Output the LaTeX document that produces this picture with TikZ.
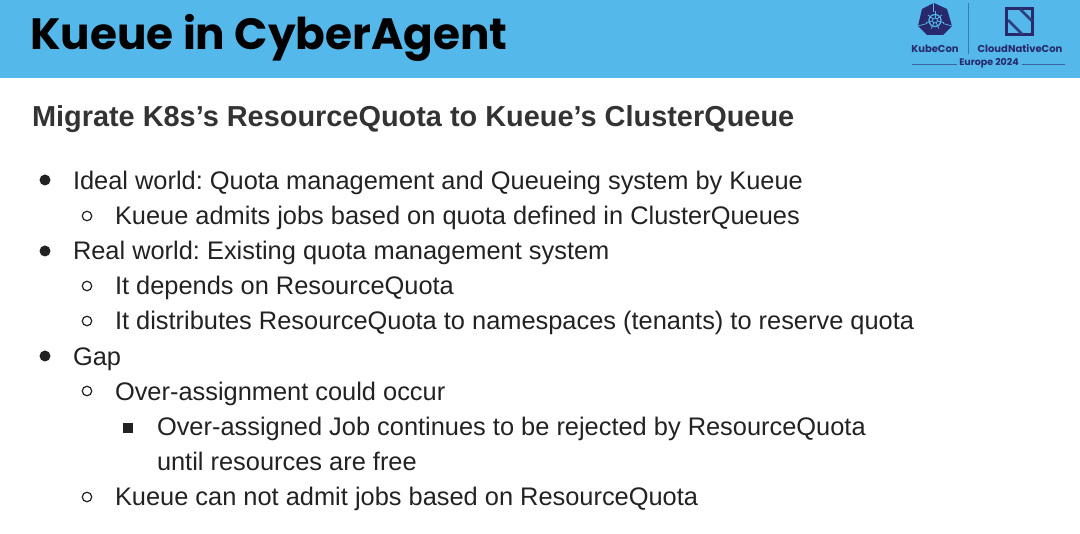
\documentclass[tikz,border=0pt]{standalone}
\usepackage{fontspec}
\setmainfont{Liberation Sans}
\newfontfamily\titlefont{Poppins}[BoldFont={Poppins Bold}]
\definecolor{bannerblue}{HTML}{55B8EA}
\definecolor{logonavy}{HTML}{27296B}
\definecolor{bodyink}{HTML}{222222}
\definecolor{headink}{HTML}{333333}
\tikzset{
 txt/.style={anchor=base west,inner sep=0pt,outer sep=0pt,text=bodyink,font=\fontsize{25.4}{30}\selectfont},
 bulA/.style={circle,fill=bodyink,inner sep=0pt,minimum size=11pt},
 bulB/.style={circle,draw=bodyink,line width=1.2pt,inner sep=0pt,minimum size=9.5pt},
 bulC/.style={rectangle,fill=bodyink,inner sep=0pt,minimum size=10.5pt},
 logotxt/.style={inner sep=0pt,text=logonavy,font=\titlefont\bfseries\fontsize{10}{12}\selectfont},
}
\frenchspacing
\begin{document}
\begin{tikzpicture}[x=1pt,y=-1pt]
\useasboundingbox (0,0) rectangle (1080,534);
\fill[bannerblue] (0,0) rectangle (1080,78);
\node[anchor=base west,inner sep=0pt,font=\titlefont\bfseries\fontsize{43.8}{48}\selectfont,text=black] (title) at (30,50) {Kueue in CyberAgent};
\node[txt,text=headink,font=\bfseries\fontsize{28.9}{32}\selectfont] (head) at (32,126.5) {Migrate K8s’s ResourceQuota to Kueue’s ClusterQueue};
% bullets and lines
\node[bulA] (b1) at (45,180) {};
\node[txt] (t1) at (73,189.7) {Ideal world: Quota management and Queueing system by Kueue};
\node[bulB] (b2) at (87,216) {};
\node[txt] (t2) at (115,224.7) {Kueue admits jobs based on quota defined in ClusterQueues};
\node[bulA] (b3) at (45,251) {};
\node[txt] (t3) at (73,259.7) {Real world: Existing quota management system};
\node[bulB] (b4) at (87,286) {};
\node[txt] (t4) at (115,294.7) {It depends on ResourceQuota};
\node[bulB] (b5) at (87,321) {};
\node[txt] (t5) at (115,329.7) {It distributes ResourceQuota to namespaces (tenants) to reserve quota};
\node[bulA] (b6) at (45,356) {};
\node[txt] (t6) at (73,365.7) {Gap};
\node[bulB] (b7) at (87,391) {};
\node[txt] (t7) at (115,400.7) {Over-assignment could occur};
\node[bulC] (b8) at (128,428) {};
\node[txt] (t8) at (157,435.7) {Over-assigned Job continues to be rejected by ResourceQuota};
\node[txt] (t9) at (157,470.7) {until resources are free};
\node[bulB] (b10) at (87,497) {};
\node[txt] (t10) at (115,505.7) {Kueue can not admit jobs based on ResourceQuota};
% KubeCon logo
\fill[logonavy] (934,3) -- (947,9) -- (952,26) -- (943,35) -- (927,35) -- (918,26) -- (922,9) -- cycle;
\draw[bannerblue,line width=.7pt] (933.5,3) -- (933.5,12);
\draw[bannerblue,line width=.7pt] (918,26) -- (927,23.5);
\draw[bannerblue,line width=.7pt] (952,26) -- (943,23.5);
\draw[bannerblue,line width=1.2pt] (935,20.5) circle (6);
\draw[bannerblue,line width=.8pt] (935,20.5) circle (2.5);
\foreach \a in {0,51.4,...,308.6} \draw[bannerblue,line width=.8pt] (935,20.5) ++(\a-90:2.5) -- ++(\a-90:6.5);
\draw[logonavy!45!bannerblue,line width=.8pt] (968,3) -- (968,54);
% CloudNativeCon logo
\draw[logonavy,line width=2.6pt] (1006.3,8.3) rectangle (1032.7,34.7);
\draw[logonavy!85!bannerblue,line width=2.6pt] (1020,9) -- (1032,21);
\draw[logonavy!85!bannerblue,line width=2.6pt] (1008,20) -- (1022,34);
\node[logotxt] (kc) at (935,49) {KubeCon};
\node[logotxt] (cnc) at (1020,49) {CloudNativeCon};
\node[logotxt,font=\titlefont\bfseries\fontsize{9.5}{11}\selectfont] (eu) at (989,63.5) {Europe 2024};
\coordinate (ll) at (912,64); \coordinate (lr) at (957,64);
\coordinate (rl) at (1022,64); \coordinate (rr) at (1065,64);
\draw[logonavy!60!bannerblue,line width=.6pt] (ll) -- (lr);
\draw[logonavy!60!bannerblue,line width=.6pt] (rl) -- (rr);
\end{tikzpicture}
\end{document}
